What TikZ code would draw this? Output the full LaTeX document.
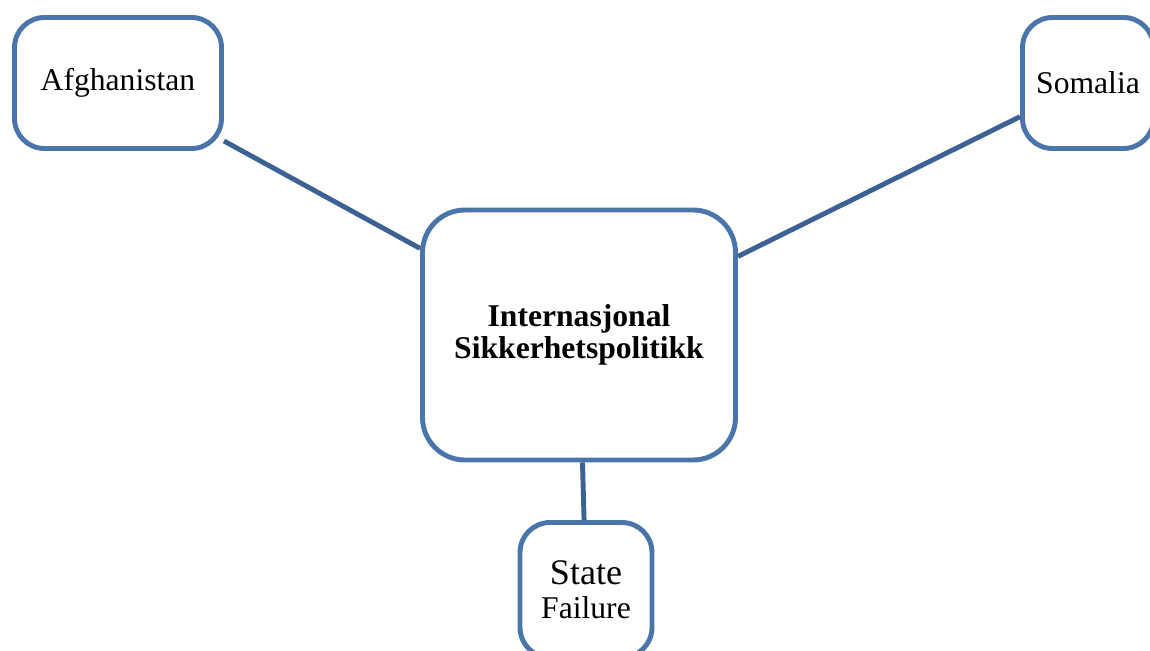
\documentclass[tikz,border=0pt]{standalone}
\usepackage{fontspec}
\setmainfont{Liberation Serif}
\usepackage{tikz}

\definecolor{boxblue}{RGB}{74,117,170}
\definecolor{lineblue}{RGB}{60,97,148}

\tikzset{
	box/.style={draw=boxblue, line width=2.8pt, fill=white, rounded corners=0.6cm,
		align=center, inner sep=0pt, font=\fontsize{18}{19.5}\selectfont},
	link/.style={draw=lineblue, line width=2.8pt},
}

\begin{document}
\begin{tikzpicture}
		%		\draw[lightgray] (0,0) grid (23,-13);
				\useasboundingbox (0,0) rectangle (23,-13.02);
				\begin{scope}
				\clip (0,0) rectangle (23,-13.02);
				\node[box, minimum width=6.26cm, minimum height=5cm, rounded corners=0.85cm,
				font=\bfseries\fontsize{18}{18.5}\selectfont] (isp) at (11.58,-6.7)
				{Internasjonal\\Sikkerhetspolitikk}; % centre
				\node[box, minimum width=4.14cm, minimum height=2.62cm] (afg) at (2.36,-1.66)
				{Afghanistan}; % left
				\node[box, minimum width=2.62cm, minimum height=2.62cm] (som) at (21.76,-1.66)
				{Somalia}; % right
				\node[box, minimum width=2.64cm, minimum height=2.7cm] (sf) at (11.72,-11.8)
				{{\fontsize{20.5}{19.5}\selectfont State}\\Failure}; % bottom
				
				\draw[link] (afg)--(isp);
				\draw[link] (som)--(isp);
				\draw[link] (sf)--(isp);
				\end{scope}
				
			\end{tikzpicture}
\end{document}
